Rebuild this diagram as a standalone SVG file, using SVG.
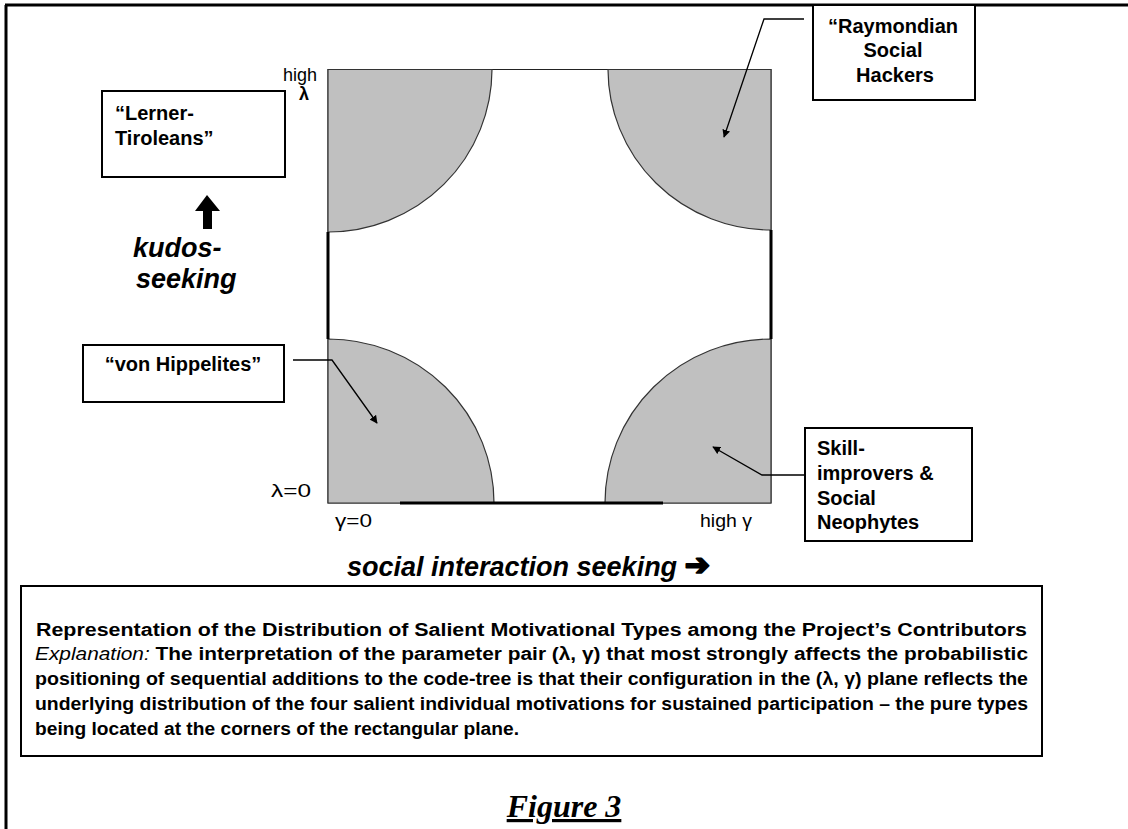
<svg xmlns="http://www.w3.org/2000/svg" width="1128" height="829" viewBox="0 0 1128 829">
<style>
  .lbl{font-family:"Liberation Sans",Arial,sans-serif;font-weight:bold;font-size:20px;fill:#000}
  .ax{font-family:"Liberation Sans",Arial,sans-serif;font-size:18px;fill:#000}
  .big{font-family:"Liberation Sans",Arial,"DejaVu Sans",sans-serif;font-weight:bold;font-style:italic;font-size:27px;fill:#000}
  .cap{font-family:"Liberation Sans",Arial,sans-serif;font-weight:bold;font-size:18px;fill:#000}
  .box{fill:#fff;stroke:#000;stroke-width:2}
  .q{fill:#c0c0c0;stroke:#333;stroke-width:1.2}
  .con{fill:none;stroke:#000;stroke-width:1.3}
</style>
<defs>
  <marker id="ah" viewBox="0 0 10 10" refX="9" refY="5" markerWidth="8" markerHeight="8" markerUnits="userSpaceOnUse" orient="auto">
    <path d="M0,0 L10,5 L0,10 z" fill="#000"/>
  </marker>
</defs>
<rect width="1128" height="829" fill="#fff"/>
<!-- outer frame -->
<path d="M5,5 H1128 M6,5 V829" fill="none" stroke="#000" stroke-width="3"/>

<!-- plane -->
<g id="plane">
  <rect x="328" y="69.5" width="443" height="433.5" fill="#fff" stroke="#222" stroke-width="1"/>
  <path class="q" d="M328,69.5 H492 A164,163 0 0 1 328,232 Z"/>
  <path class="q" d="M771,69.5 H608 A163,161 0 0 0 771,230 Z"/>
  <path class="q" d="M328,503 H494 A166,164 0 0 0 328,339 Z"/>
  <path class="q" d="M771,503 H605 A166,164 0 0 1 771,339 Z"/>
  <path d="M328,232 V339 M771,230 V339 M400,503 H663" fill="none" stroke="#000" stroke-width="3"/>
  <text class="ax" x="283" y="81" font-size="19">high</text>
  <text class="ax" x="299" y="100" font-weight="bold" font-size="14">λ</text>
  <text class="ax" x="271" y="497" textLength="40" lengthAdjust="spacingAndGlyphs">λ=0</text>
  <text class="ax" x="335" y="527" textLength="37" lengthAdjust="spacingAndGlyphs">γ=0</text>
  <text class="ax" x="700" y="527" textLength="52" lengthAdjust="spacingAndGlyphs">high γ</text>
</g>

<!-- axis labels -->
<g id="kudos">
  <path d="M207,195 L220,211 L212,211 L212,229 L203,229 L203,211 L195,211 Z" fill="#000"/>
  <text class="big" x="133" y="257">kudos-</text>
  <text class="big" x="136" y="288">seeking</text>
</g>
<g id="social">
  <text class="big" x="347" y="576" font-size="29">social interaction seeking <tspan font-family="'DejaVu Sans',sans-serif" font-style="normal" font-weight="bold" font-size="30" dy="-1" stroke="#000" stroke-width="2" stroke-linejoin="round">➔</tspan></text>
</g>

<!-- nodes -->
<g id="lerner">
  <rect class="box" x="102" y="91" width="183" height="86"/>
  <text class="lbl" x="115" y="120">“Lerner-</text>
  <text class="lbl" x="115" y="145">Tiroleans”</text>
</g>
<g id="raymondian">
  <rect class="box" x="813" y="5" width="162" height="95"/>
  <text class="lbl" x="893" y="33" text-anchor="middle">“Raymondian</text>
  <text class="lbl" x="893" y="57" text-anchor="middle">Social</text>
  <text class="lbl" x="895" y="82" text-anchor="middle">Hackers</text>
</g>
<g id="vonhippel">
  <rect class="box" x="83" y="345" width="201" height="57"/>
  <text class="lbl" x="183" y="371" text-anchor="middle">“von Hippelites”</text>
</g>
<g id="skill">
  <rect class="box" x="805" y="428" width="167" height="113"/>
  <text class="lbl" x="817" y="455">Skill-</text>
  <text class="lbl" x="817" y="480">improvers &amp;</text>
  <text class="lbl" x="817" y="505">Social</text>
  <text class="lbl" x="817" y="529">Neophytes</text>
</g>

<!-- connectors -->
<g id="connectors">
  <polyline class="con" points="804,19 764,19 724,137" marker-end="url(#ah)"/>
  <polyline class="con" points="293,360 332,360 377,423" marker-end="url(#ah)"/>
  <polyline class="con" points="805,475 762,475 713,447" marker-end="url(#ah)"/>
</g>

<!-- caption -->
<g id="caption">
  <rect class="box" x="21" y="586" width="1021" height="170"/>
  <text class="cap" x="36" y="636" textLength="991" lengthAdjust="spacingAndGlyphs">Representation of the Distribution of Salient Motivational Types among the Project’s Contributors</text>
  <text class="cap" x="35" y="660" textLength="993" lengthAdjust="spacingAndGlyphs"><tspan font-style="italic" font-weight="normal">Explanation:</tspan> The interpretation of the parameter pair (λ, γ) that most strongly affects the probabilistic</text>
  <text class="cap" x="35" y="685" textLength="993" lengthAdjust="spacingAndGlyphs">positioning of sequential additions to the code-tree is that their configuration in the (λ, γ) plane reflects the</text>
  <text class="cap" x="35" y="710" textLength="993" lengthAdjust="spacingAndGlyphs">underlying distribution of the four salient individual motivations for sustained participation – the pure types</text>
  <text class="cap" x="35" y="735" textLength="484" lengthAdjust="spacingAndGlyphs">being located at the corners of the rectangular plane.</text>
</g>

<g id="title">
  <text x="564" y="817" text-anchor="middle" font-family="'Liberation Serif','Times New Roman',serif" font-weight="bold" font-style="italic" font-size="32" text-decoration="underline">Figure 3</text>
</g>
</svg>
